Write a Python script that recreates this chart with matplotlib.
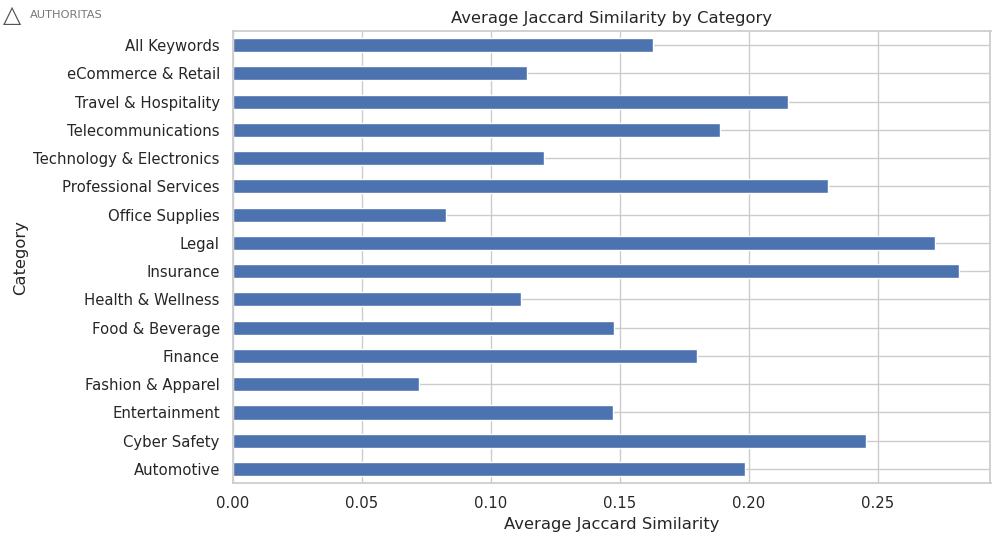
import numpy as np
import matplotlib
matplotlib.use("Agg")
import matplotlib.pyplot as plt
import seaborn as sns

sns.set_theme(style="whitegrid")

# bottom to top, as drawn
categories = ["Automotive", "Cyber Safety", "Entertainment", "Fashion & Apparel",
              "Finance", "Food & Beverage", "Health & Wellness", "Insurance",
              "Legal", "Office Supplies", "Professional Services",
              "Technology & Electronics", "Telecommunications",
              "Travel & Hospitality", "eCommerce & Retail", "All Keywords"]
similarity = [0.1984, 0.2453, 0.1471, 0.0719,
              0.1798, 0.1477, 0.1118, 0.2812,
              0.2721, 0.0826, 0.2308,
              0.1204, 0.1888,
              0.2152, 0.1138, 0.1628]

fig = plt.figure(figsize=(10, 5.44), dpi=100)
ax = fig.add_axes([0.233, 0.112, 0.7575, 0.831])

ypos = np.arange(len(categories))
ax.barh(ypos, similarity, height=0.5, color="#4C72B0")
ax.set_yticks(ypos)
ax.set_yticklabels(categories)
ax.set_ylim(-0.5, len(categories) - 0.5)
ax.set_xlim(0, 0.2936)
ax.set_xticks([0.0, 0.05, 0.10, 0.15, 0.20, 0.25])
ax.set_xticklabels(["0.00", "0.05", "0.10", "0.15", "0.20", "0.25"])
ax.tick_params(axis="both", labelsize=10.75)

ax.set_xlabel("Average Jaccard Similarity", fontsize=11.75)
ax.set_ylabel("Category", fontsize=11.75)
ax.set_title("Average Jaccard Similarity by Category", fontsize=11.75)

# logo watermark
fig.text(0.003, 0.972, "\u25b3", fontsize=17, color="#555555", va="center", ha="left")
fig.text(0.030, 0.972, "AUTHORITAS", fontsize=8.2, color="#777777", va="center", ha="left")

fig.savefig("out.png", dpi=100)
